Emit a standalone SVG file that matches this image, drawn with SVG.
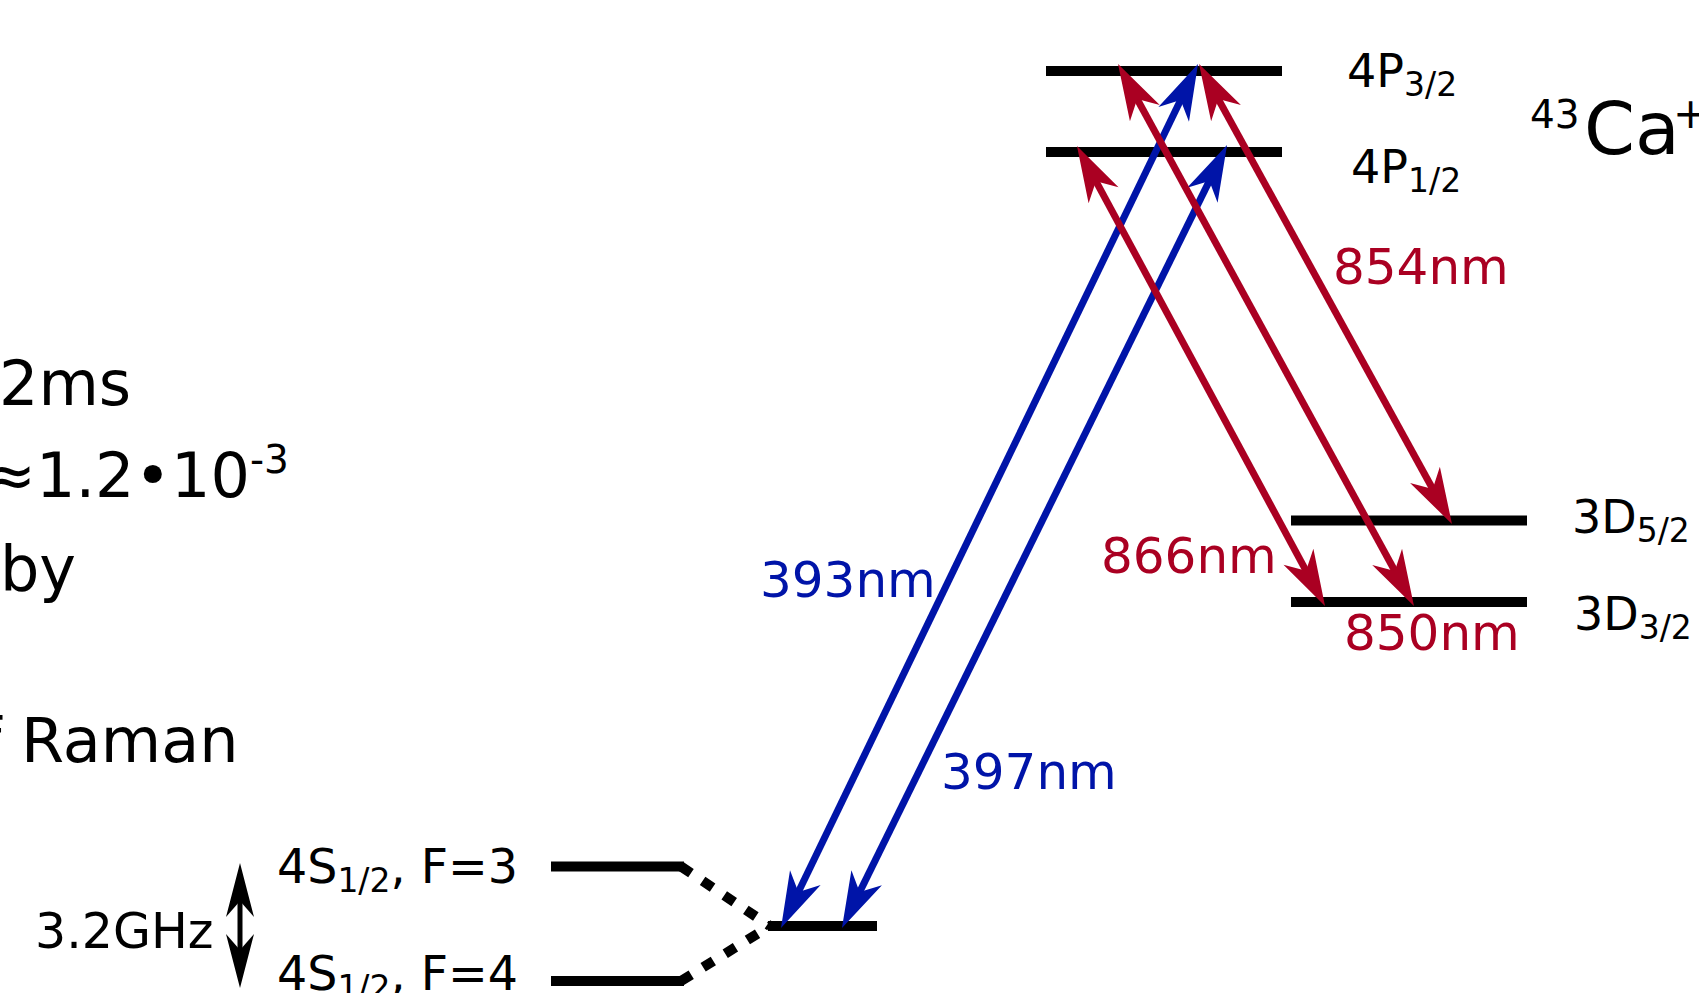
<svg xmlns="http://www.w3.org/2000/svg" width="1699" height="993" viewBox="0 0 1699 993">
<style>
text{font-family:"DejaVu Sans","Liberation Sans",sans-serif;}
.lvl{stroke:#000;stroke-width:10;fill:none;stroke-linecap:butt;}
.dot{stroke:#000;stroke-width:10;fill:none;stroke-dasharray:12,14;}
.blue{stroke:#0014a8;stroke-width:7;fill:none;}
.red{stroke:#aa0022;stroke-width:7;fill:none;}
.blk{stroke:#000;stroke-width:5;fill:none;}
.lab{font-size:46px;fill:#000;}
.sub{font-size:33px;}
.wl{font-size:50px;}
.bt{fill:#0014a8;}
.rt{fill:#aa0022;}
.big{font-size:62px;fill:#000;}
</style>
<defs>
<marker id="mb" markerUnits="userSpaceOnUse" orient="auto-start-reverse" viewBox="-25 -20 65 40" markerWidth="65" markerHeight="40" refX="0" refY="0" overflow="visible">
<path d="M35,0 L-21,-17 L-5,0 L-21,17 Z" fill="#0014a8"/>
</marker>
<marker id="mr" markerUnits="userSpaceOnUse" orient="auto-start-reverse" viewBox="-25 -20 65 40" markerWidth="65" markerHeight="40" refX="0" refY="0" overflow="visible">
<path d="M35,0 L-21,-17 L-5,0 L-21,17 Z" fill="#aa0022"/>
</marker>
<marker id="mk" markerUnits="userSpaceOnUse" orient="auto-start-reverse" viewBox="-25 -15 60 30" markerWidth="60" markerHeight="30" refX="0" refY="0" overflow="visible">
<path d="M30,0 L-24,-14 L-8,0 L-24,14 Z" fill="#000"/>
</marker>
</defs>

<g id="level-4P32"><line class="lvl" x1="1046" y1="71" x2="1282" y2="71"/>
<text class="lab" x="1347" y="87">4P<tspan class="sub" dy="9">3/2</tspan></text></g>
<g id="level-4P12"><line class="lvl" x1="1046" y1="152" x2="1282" y2="152"/>
<text class="lab" x="1351" y="183">4P<tspan class="sub" dy="9">1/2</tspan></text></g>
<g id="level-3D52"><line class="lvl" x1="1291" y1="520.5" x2="1527" y2="520.5"/>
<text class="lab" x="1572" y="533">3D<tspan class="sub" dy="9">5/2</tspan></text></g>
<g id="level-3D32"><line class="lvl" x1="1291" y1="602" x2="1527" y2="602"/>
<text class="lab" x="1574" y="630">3D<tspan class="sub" dy="9">3/2</tspan></text></g>
<g id="level-4S-F3"><line class="lvl" x1="551" y1="866.5" x2="684" y2="866.5"/><path class="dot" d="M681,866.5 L770,926"/>
<text class="lab" x="277" y="883" style="font-size:47.5px">4S<tspan class="sub" dy="9">1/2</tspan><tspan dy="-9">, F=3</tspan></text></g>
<g id="level-4S-F4"><line class="lvl" x1="551" y1="981" x2="684" y2="981"/><path class="dot" d="M681,981 L770,926"/>
<text class="lab" x="277" y="990" style="font-size:47.5px">4S<tspan class="sub" dy="9">1/2</tspan><tspan dy="-9">, F=4</tspan></text></g>
<g id="level-4S"><line class="lvl" x1="768" y1="926" x2="877" y2="926"/></g>
<g id="title"><text x="1530" y="128" style="font-size:39px">43<tspan x="1584" y="154" style="font-size:73px">Ca</tspan><tspan x="1673" y="128" style="font-size:42px">+</tspan></text></g>
<g id="notes">
<text class="big" x="-1" y="405">2ms</text>
<text class="big" x="-16" y="497">≈1.2•10<tspan style="font-size:39px" dy="-24">-3</tspan></text>
<text class="big" x="0" y="590">by</text>
<text class="big" x="-20.5" y="762">f Raman</text>
<text x="35" y="948" style="font-size:49px">3.2GHz</text>
</g>
<g id="connectors">
<path class="blue" d="M796.2,896.5 L1182.8,95.5" marker-start="url(#mb)" marker-end="url(#mb)"/>
<path class="blue" d="M857.4,896.6 L1211.6,176.4" marker-start="url(#mb)" marker-end="url(#mb)"/>
<path class="red" d="M1093.6,176.8 L1308.4,575.2" marker-start="url(#mr)" marker-end="url(#mr)"/>
<path class="red" d="M1134.8,94.7 L1397.2,575.3" marker-start="url(#mr)" marker-end="url(#mr)"/>
<path class="red" d="M1215.9,94.7 L1435.1,493.3" marker-start="url(#mr)" marker-end="url(#mr)"/>
<path class="blk" d="M240,893 L240,958" marker-start="url(#mk)" marker-end="url(#mk)"/>
</g>
<g id="labels">
<text class="wl bt" x="760" y="597">393nm</text>
<text class="wl bt" x="941" y="789">397nm</text>
<text class="wl rt" x="1333" y="284">854nm</text>
<text class="wl rt" x="1101" y="573">866nm</text>
<text class="wl rt" x="1344" y="650">850nm</text>
</g>
</svg>
